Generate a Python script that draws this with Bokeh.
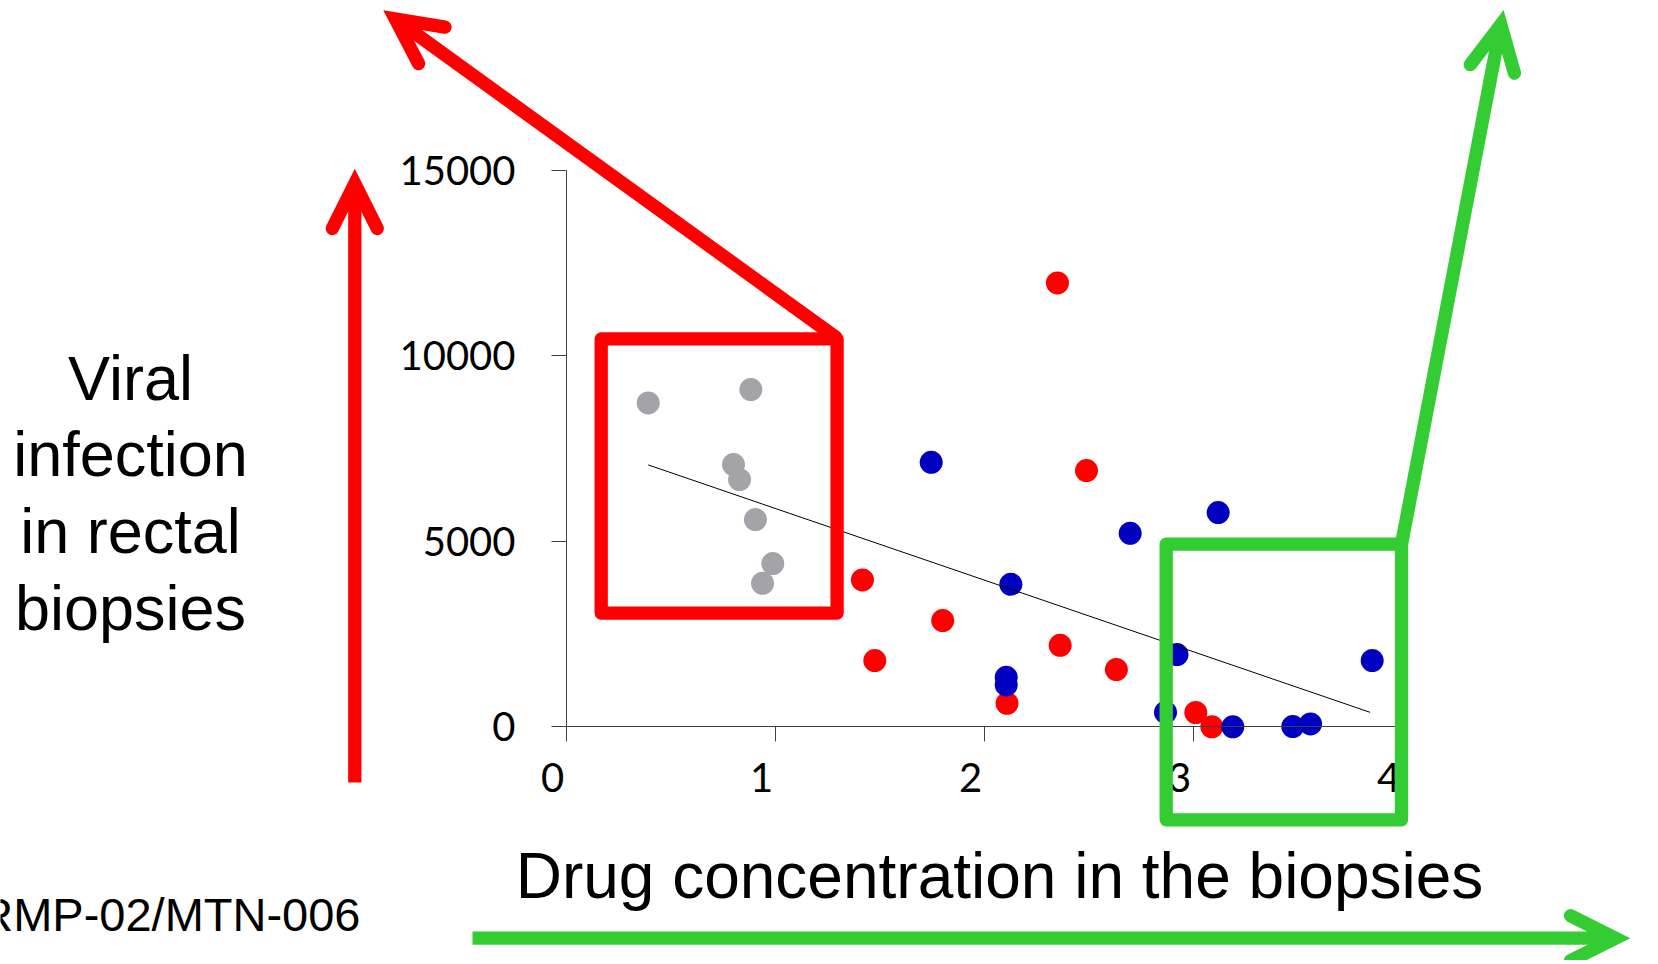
from bokeh.plotting import figure
from bokeh.models import (Range1d, LinearAxis, FixedTicker, CustomJSTickFormatter,
                          Arrow, OpenHead, PolyAnnotation, Label)
from bokeh.embed import file_html
from bokeh.resources import INLINE

# ---------------- data ----------------
gray_x = [0.391, 0.882, 0.799, 0.828, 0.904, 0.987, 0.938]
gray_y = [8730, 9089, 7067, 6663, 5585, 4399, 3868]

red_x = [1.416, 1.475, 1.800, 2.108, 2.349, 2.362, 2.488, 2.631, 3.011, 3.088]
red_y = [3960, 1784, 2862, 634, 11965, 2197, 6906, 1542, 383, 0]

blue_x = [1.745, 2.104, 2.104, 2.126, 2.697, 2.866, 2.921, 3.118, 3.188, 3.475, 3.560, 3.855]
blue_y = [7129, 1334, 1129, 3841, 5216, 391, 1946, 5774, 0, 5, 78, 1784]

trend_x = [0.391, 3.845]
trend_y = [7059, 390]

x_ticks = [0, 1, 2, 3, 4]
y_ticks = [0, 5000, 10000, 15000]

y_title_lines = ["Viral", "infection", "in rectal", "biopsies"]
x_title = "Drug concentration in the biopsies"
study = "RMP-02/MTN-006"

# ---------------- layout ----------------
FIG_W, FIG_H = 1650, 960
OX, OY = 566.0, 726.3          # canvas pixel of data origin (0, 0)
PXX = 209.0                    # pixels per x unit
PXY = 185.5 / 5000.0           # pixels per y unit

X0, X1 = -OX / PXX, (FIG_W - OX) / PXX
Y0, Y1 = -(FIG_H - OY) / PXY, OY / PXY

RED = "#FF0000"
GREEN = "#33CC33"
BLUE = "#0000C0"
GRAY = "#A3A3A8"
AX = "#404040"


def dx(sx):
    """canvas x -> data x"""
    return (sx - OX) / PXX


def dy(sy):
    """canvas y -> data y"""
    return (OY - sy) / PXY


p = figure(width=FIG_W, height=FIG_H, x_range=Range1d(X0, X1), y_range=Range1d(Y0, Y1),
           output_backend="svg", toolbar_location=None,
           x_axis_type=None, y_axis_type=None,
           min_border=0, min_border_left=0, min_border_right=0,
           min_border_top=0, min_border_bottom=0)
p.outline_line_color = None
p.background_fill_color = "white"
p.border_fill_color = "white"
p.extra_x_ranges = {"xlab": Range1d(X0 + 0.066, X1 + 0.066)}

# x axis: line + ticks
xax = LinearAxis(ticker=FixedTicker(ticks=x_ticks), bounds=(0, 4), fixed_location=0,
                 formatter=CustomJSTickFormatter(code="return ''"),
                 major_tick_out=15, major_tick_in=0, minor_tick_out=0, minor_tick_in=0,
                 axis_line_color=AX, major_tick_line_color=AX, axis_line_width=1)
p.add_layout(xax, "below")

# x axis: labels (shifted slightly left, as in the reference)
xlab = LinearAxis(x_range_name="xlab", ticker=FixedTicker(ticks=x_ticks), fixed_location=0,
                  axis_line_color=None, major_tick_line_color=None, minor_tick_line_color=None,
                  major_tick_out=0, major_tick_in=0, minor_tick_out=0, minor_tick_in=0,
                  major_label_standoff=36,
                  major_label_text_font="Lato", major_label_text_font_size="40px",
                  major_label_text_color="black")
p.add_layout(xlab, "below")

yax = LinearAxis(ticker=FixedTicker(ticks=y_ticks), bounds=(0, 15000), fixed_location=0,
                 major_tick_out=15, major_tick_in=0, minor_tick_out=0, minor_tick_in=0,
                 axis_line_color=AX, major_tick_line_color=AX,
                 major_label_standoff=36,
                 major_label_text_font="Lato", major_label_text_font_size="40px",
                 major_label_text_color="black")
p.add_layout(yax, "left")

# points
p.scatter(gray_x, gray_y, size=23, color=GRAY, line_color=None)
p.scatter(red_x, red_y, size=23, color=RED, line_color=None)
p.scatter(blue_x, blue_y, size=23, color=BLUE, line_color=None)
p.line(trend_x, trend_y, line_color="black", line_width=1)

# highlight boxes
LW = 13.3
red_box = PolyAnnotation(xs=[dx(600.7), dx(836.6), dx(836.6), dx(600.7)],
                         ys=[dy(338.4), dy(338.4), dy(612.6), dy(612.6)],
                         fill_color=None, fill_alpha=0, line_color=RED, line_alpha=1.0,
                         line_width=LW, line_join="round")
green_box = PolyAnnotation(xs=[dx(1165.7), dx(1401), dx(1401), dx(1165.7)],
                           ys=[dy(543.7), dy(543.7), dy(819.3), dy(819.3)],
                           fill_color=None, fill_alpha=0, line_color=GREEN, line_alpha=1.0,
                           line_width=LW, line_join="round")
p.add_layout(red_box)
p.add_layout(green_box)


def arrow(x0, y0, x1, y1, color):
    head = OpenHead(size=45, line_color=color, line_alpha=1.0, line_width=LW,
                    line_cap="round", line_join="miter")
    a = Arrow(x_start=dx(x0), y_start=dy(y0), x_end=dx(x1), y_end=dy(y1),
              end=head, line_color=color, line_alpha=1.0, line_width=LW)
    p.add_layout(a)


arrow(354.3, 782, 354.3, 183, RED)
arrow(837, 338, 394.8, 18.5, RED)
arrow(1401, 543.7, 1500.3, 24.2, GREEN)
arrow(472, 937.7, 1615, 937.7, GREEN)


def text(x, baseline, s, size, align):
    # shift so that the glyph baseline lands where the reference has it
    p.add_layout(Label(x=dx(x), y=dy(baseline - 0.345 * size), text=s, text_align=align,
                       text_baseline="alphabetic", text_font="Liberation Sans",
                       text_font_size=f"{size}px", text_color="black"))


for i, line in enumerate(y_title_lines):
    text(130, 399 + 76.7 * i, line, 63, "center")

text(999, 898, x_title, 64, "center")
text(360, 930, study, 47, "right")

open("out.html", "w").write(file_html(p, INLINE))
